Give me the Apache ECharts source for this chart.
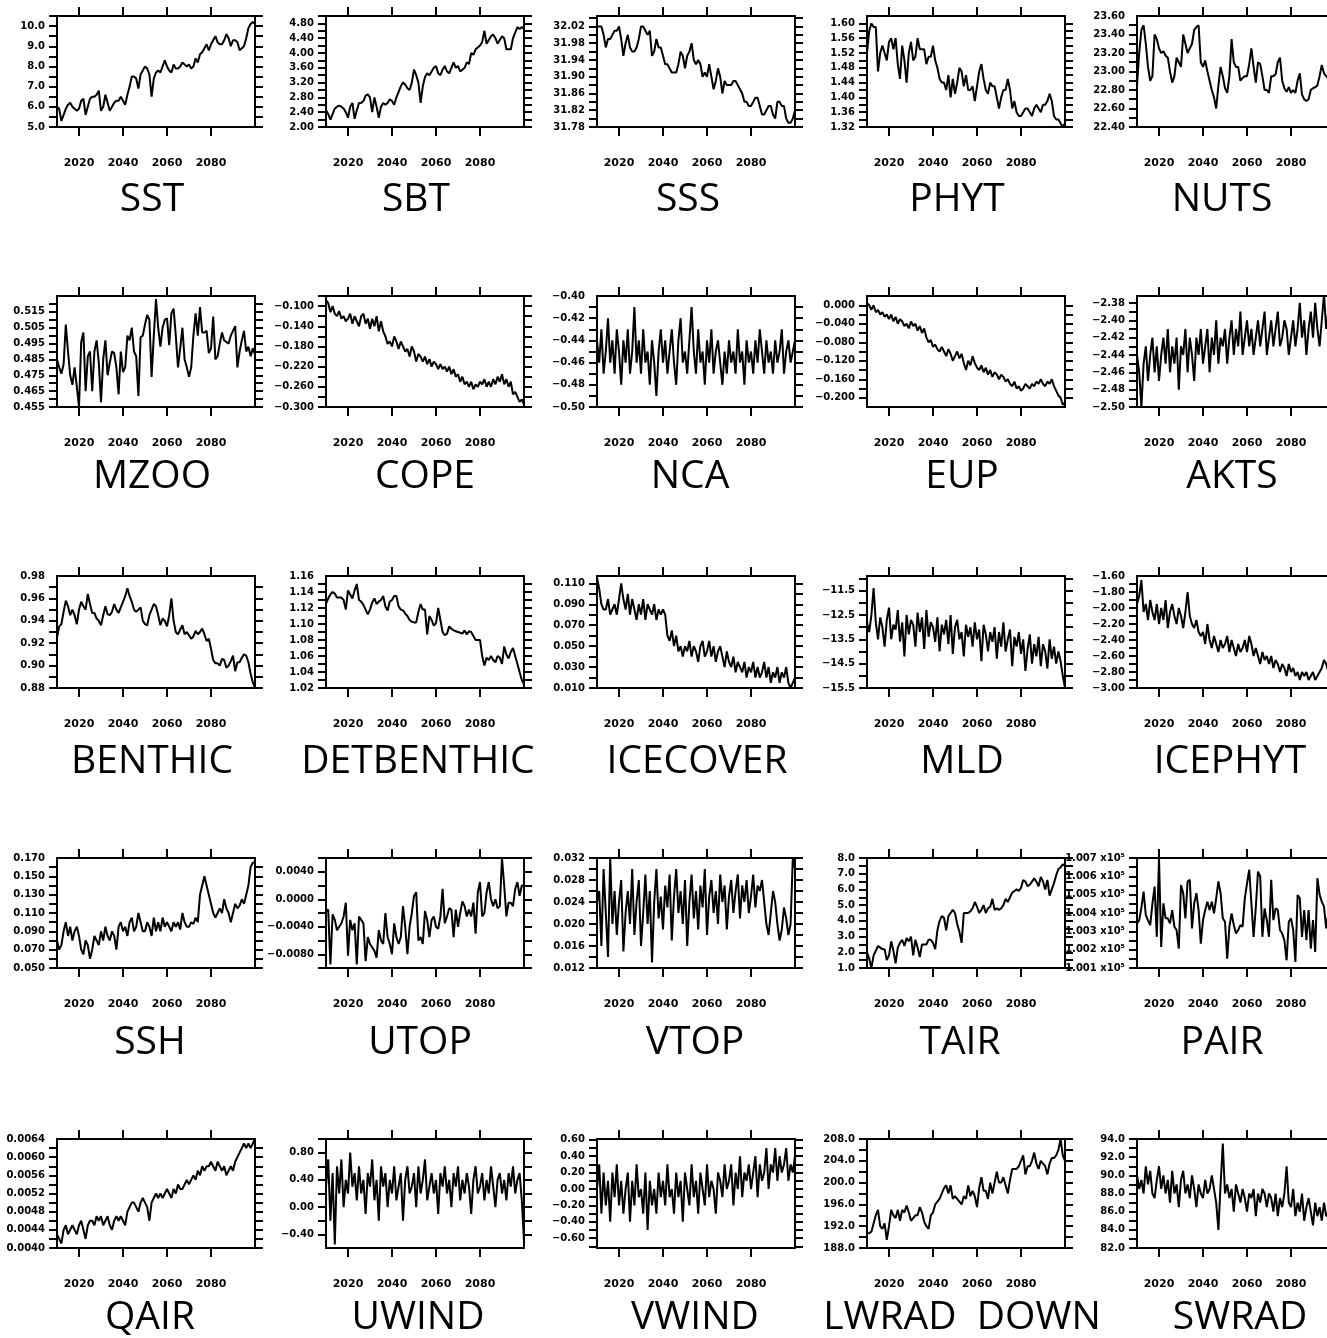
<!DOCTYPE html>
<html><head><meta charset="utf-8">
<script src="https://cdn.jsdelivr.net/npm/echarts@6/dist/echarts.min.js"></script>
<style>html,body{margin:0;padding:0;background:#fff}#c{width:1327px;height:1338px}</style>
</head><body><div id="c"></div>
<script>
// ---------------- DATA ----------------
const YEARS = []; for (let y = 2010; y <= 2100; y++) YEARS.push(y);
const X_TICKS = [2020, 2040, 2060, 2080];

const SST = [6.0,5.9,5.3,5.6,5.9,6.1,6.2,6.0,5.9,5.8, 5.9,6.3,6.4,5.6,6.0,6.4,6.5,6.5,6.6,6.8, 5.8,6.0,6.6,6.2,5.8,6.0,6.2,6.3,6.3,6.5, 6.3,6.1,6.6,7.0,7.5,7.5,7.4,6.9,7.6,7.8, 8.0,7.9,7.6,6.5,7.4,7.7,7.8,7.7,8.0,8.3, 8.0,7.8,7.7,8.1,7.9,7.9,8.0,8.2,8.1,8.0, 8.1,7.9,8.0,8.4,8.2,8.6,8.7,8.9,9.1,8.8, 9.1,9.3,9.5,9.2,9.1,9.1,9.3,9.6,9.4,9.0, 9.3,9.3,9.2,8.8,8.9,9.0,9.4,9.9,10.1,10.2,10.1];
const SBT = [2.45,2.35,2.20,2.35,2.50,2.55,2.58,2.55,2.50,2.40, 2.25,2.55,2.65,2.22,2.45,2.65,2.65,2.70,2.85,2.88, 2.80,2.40,2.80,2.55,2.25,2.55,2.65,2.60,2.65,2.75, 2.70,2.60,2.80,2.95,3.10,3.20,3.15,3.05,3.00,3.20, 3.55,3.40,3.20,2.65,3.10,3.35,3.45,3.40,3.50,3.60, 3.65,3.45,3.40,3.55,3.65,3.50,3.45,3.60,3.75,3.60, 3.65,3.50,3.55,3.60,3.75,3.70,4.00,3.95,4.10,4.15, 4.20,4.30,4.60,4.25,4.35,4.45,4.50,4.40,4.25,4.35, 4.45,4.40,4.10,4.10,4.10,4.40,4.55,4.70,4.65,4.70,4.65];
const SSS = [32.02,32.02,32.02,32.00,31.97,31.99,31.99,32.00,32.01,32.01, 32.02,31.99,31.95,31.98,32.00,31.97,31.96,31.96,31.97,31.99, 32.02,32.02,32.01,32.00,32.01,31.95,31.96,31.99,31.97,31.97, 31.95,31.93,31.93,31.92,31.91,31.91,31.91,31.93,31.96,31.95, 31.92,31.95,31.96,31.98,31.94,31.93,31.94,31.93,31.90,31.91, 31.90,31.93,31.90,31.87,31.89,31.92,31.90,31.86,31.89,31.88, 31.88,31.88,31.89,31.89,31.88,31.87,31.86,31.84,31.84,31.83, 31.83,31.84,31.85,31.85,31.83,31.81,31.81,31.82,31.83,31.83, 31.81,31.80,31.84,31.84,31.83,31.83,31.80,31.79,31.79,31.80,31.82];
const PHYT = [1.52,1.58,1.60,1.59,1.59,1.47,1.52,1.54,1.52,1.50, 1.55,1.56,1.53,1.56,1.49,1.45,1.54,1.50,1.44,1.52, 1.55,1.50,1.51,1.56,1.53,1.53,1.53,1.49,1.51,1.51, 1.54,1.50,1.48,1.45,1.44,1.44,1.42,1.46,1.40,1.45, 1.41,1.44,1.48,1.47,1.43,1.46,1.42,1.42,1.43,1.39, 1.43,1.47,1.49,1.45,1.42,1.41,1.44,1.43,1.43,1.40, 1.37,1.40,1.42,1.42,1.45,1.42,1.37,1.39,1.36,1.35, 1.35,1.36,1.37,1.37,1.36,1.35,1.37,1.38,1.37,1.36, 1.38,1.38,1.39,1.41,1.39,1.35,1.34,1.34,1.33,1.32,1.33];
const NUTS = [22.85,23.20,23.45,23.50,23.30,23.05,22.90,22.95,23.40,23.35, 23.25,23.20,23.22,23.17,23.15,23.00,22.88,22.95,23.15,23.10, 23.05,23.40,23.30,23.20,23.25,23.30,23.45,23.48,23.50,23.10, 23.05,23.12,23.00,22.90,22.80,22.72,22.60,22.85,23.05,22.95, 22.82,22.77,22.95,23.35,23.10,23.05,23.05,22.90,22.93,22.95, 22.95,23.08,23.25,23.05,22.88,23.10,23.08,22.95,22.80,22.80, 22.77,22.95,22.95,22.97,23.10,23.15,22.90,22.82,22.78,22.83, 22.77,22.80,22.77,22.90,22.98,22.75,22.70,22.68,22.70,22.80, 22.82,22.83,22.85,22.95,23.07,22.98,22.95,22.92,22.95,22.90,22.95];
const MZOO = [0.485,0.480,0.476,0.482,0.507,0.490,0.475,0.469,0.480,0.468, 0.455,0.496,0.502,0.465,0.487,0.490,0.465,0.490,0.497,0.483, 0.458,0.485,0.497,0.475,0.483,0.490,0.489,0.480,0.463,0.490, 0.477,0.480,0.500,0.497,0.505,0.490,0.487,0.462,0.499,0.500, 0.507,0.513,0.510,0.474,0.500,0.523,0.505,0.493,0.505,0.510, 0.511,0.494,0.514,0.517,0.500,0.480,0.492,0.505,0.485,0.480, 0.474,0.480,0.500,0.514,0.500,0.518,0.502,0.502,0.503,0.489, 0.492,0.512,0.485,0.487,0.495,0.502,0.497,0.496,0.495,0.500, 0.503,0.506,0.480,0.490,0.497,0.503,0.490,0.493,0.487,0.492,0.488];
const COPE = [-0.088,-0.094,-0.112,-0.100,-0.115,-0.120,-0.110,-0.125,-0.120,-0.130, -0.125,-0.115,-0.135,-0.120,-0.130,-0.140,-0.120,-0.115,-0.135,-0.125, -0.145,-0.125,-0.140,-0.120,-0.150,-0.130,-0.150,-0.160,-0.175,-0.170, -0.180,-0.160,-0.170,-0.185,-0.170,-0.180,-0.190,-0.185,-0.200,-0.180, -0.190,-0.210,-0.195,-0.200,-0.210,-0.200,-0.215,-0.205,-0.220,-0.210, -0.215,-0.225,-0.215,-0.225,-0.220,-0.230,-0.220,-0.235,-0.225,-0.240, -0.235,-0.250,-0.240,-0.255,-0.250,-0.260,-0.250,-0.265,-0.255,-0.260, -0.250,-0.255,-0.245,-0.260,-0.250,-0.260,-0.245,-0.255,-0.240,-0.250, -0.235,-0.255,-0.245,-0.260,-0.250,-0.275,-0.270,-0.280,-0.290,-0.285,-0.295];
const NCA = [-0.44,-0.46,-0.43,-0.47,-0.45,-0.42,-0.46,-0.44,-0.47,-0.43, -0.45,-0.48,-0.44,-0.46,-0.43,-0.47,-0.45,-0.41,-0.46,-0.44, -0.47,-0.43,-0.46,-0.45,-0.48,-0.44,-0.46,-0.49,-0.45,-0.43, -0.46,-0.44,-0.47,-0.45,-0.43,-0.46,-0.48,-0.44,-0.42,-0.46, -0.45,-0.47,-0.44,-0.41,-0.45,-0.47,-0.43,-0.46,-0.45,-0.48, -0.44,-0.46,-0.43,-0.47,-0.45,-0.44,-0.46,-0.48,-0.45,-0.47, -0.44,-0.46,-0.45,-0.47,-0.43,-0.46,-0.45,-0.48,-0.44,-0.46, -0.45,-0.47,-0.44,-0.46,-0.43,-0.45,-0.47,-0.44,-0.46,-0.45, -0.47,-0.44,-0.46,-0.45,-0.43,-0.47,-0.45,-0.44,-0.46,-0.45,-0.44];
const EUP = [0.005,0.000,-0.010,0.000,-0.015,-0.010,-0.020,-0.015,-0.025,-0.020, -0.030,-0.020,-0.035,-0.025,-0.040,-0.030,-0.035,-0.045,-0.040,-0.050, -0.035,-0.045,-0.040,-0.055,-0.045,-0.060,-0.050,-0.070,-0.080,-0.075, -0.090,-0.085,-0.095,-0.100,-0.090,-0.100,-0.110,-0.095,-0.105,-0.120, -0.110,-0.100,-0.115,-0.105,-0.125,-0.140,-0.120,-0.130,-0.110,-0.125, -0.135,-0.140,-0.130,-0.145,-0.135,-0.150,-0.140,-0.155,-0.145,-0.150, -0.160,-0.150,-0.155,-0.165,-0.160,-0.170,-0.175,-0.165,-0.180,-0.175, -0.185,-0.180,-0.170,-0.175,-0.180,-0.170,-0.175,-0.165,-0.170,-0.160, -0.170,-0.175,-0.165,-0.170,-0.160,-0.175,-0.185,-0.195,-0.200,-0.215,-0.210];
const AKTS = [-2.44,-2.46,-2.50,-2.45,-2.43,-2.47,-2.44,-2.42,-2.46,-2.43, -2.47,-2.44,-2.42,-2.45,-2.41,-2.46,-2.43,-2.45,-2.42,-2.48, -2.43,-2.44,-2.41,-2.46,-2.42,-2.44,-2.47,-2.42,-2.44,-2.41, -2.45,-2.43,-2.41,-2.46,-2.42,-2.44,-2.40,-2.45,-2.42,-2.43, -2.41,-2.45,-2.42,-2.40,-2.44,-2.41,-2.43,-2.39,-2.44,-2.42, -2.40,-2.43,-2.41,-2.44,-2.42,-2.40,-2.43,-2.41,-2.39,-2.44, -2.42,-2.40,-2.43,-2.41,-2.39,-2.43,-2.42,-2.40,-2.41,-2.44, -2.42,-2.40,-2.43,-2.41,-2.38,-2.42,-2.40,-2.44,-2.41,-2.39, -2.42,-2.38,-2.41,-2.43,-2.40,-2.37,-2.41,-2.39,-2.40,-2.38,-2.39];
const BENTHIC = [0.925,0.935,0.937,0.948,0.958,0.953,0.945,0.950,0.945,0.937, 0.950,0.957,0.953,0.950,0.964,0.955,0.947,0.947,0.942,0.940, 0.936,0.945,0.953,0.946,0.945,0.948,0.955,0.950,0.947,0.952, 0.957,0.962,0.969,0.962,0.957,0.950,0.948,0.950,0.952,0.940, 0.937,0.936,0.945,0.950,0.955,0.953,0.945,0.936,0.942,0.940, 0.935,0.945,0.960,0.940,0.930,0.928,0.932,0.936,0.928,0.930, 0.927,0.924,0.926,0.931,0.928,0.930,0.933,0.928,0.922,0.924, 0.915,0.905,0.902,0.902,0.900,0.906,0.905,0.898,0.900,0.904, 0.909,0.895,0.903,0.903,0.907,0.910,0.909,0.903,0.893,0.885,0.880];
const DETBENTHIC = [1.125,1.132,1.137,1.140,1.138,1.133,1.133,1.133,1.130,1.118, 1.142,1.137,1.132,1.142,1.150,1.130,1.128,1.124,1.118,1.112, 1.118,1.127,1.132,1.125,1.128,1.130,1.135,1.122,1.117,1.128, 1.130,1.135,1.135,1.122,1.118,1.117,1.113,1.110,1.105,1.103, 1.102,1.102,1.115,1.125,1.118,1.118,1.087,1.110,1.105,1.098, 1.101,1.120,1.105,1.090,1.086,1.088,1.097,1.094,1.092,1.091, 1.090,1.089,1.088,1.092,1.087,1.091,1.090,1.085,1.080,1.080, 1.080,1.060,1.048,1.058,1.055,1.060,1.055,1.052,1.060,1.058, 1.050,1.072,1.062,1.057,1.065,1.070,1.060,1.050,1.040,1.030,1.025];
const ICECOVER = [0.115,0.105,0.090,0.085,0.085,0.095,0.080,0.085,0.090,0.080, 0.095,0.110,0.095,0.085,0.100,0.080,0.095,0.085,0.075,0.090, 0.080,0.095,0.075,0.090,0.085,0.080,0.090,0.075,0.085,0.080, 0.085,0.080,0.060,0.055,0.065,0.050,0.060,0.045,0.050,0.040, 0.050,0.045,0.055,0.040,0.050,0.045,0.035,0.050,0.055,0.040, 0.045,0.055,0.040,0.050,0.035,0.045,0.050,0.040,0.030,0.045, 0.035,0.030,0.040,0.025,0.035,0.030,0.025,0.035,0.020,0.030, 0.025,0.035,0.020,0.030,0.020,0.025,0.035,0.020,0.030,0.015, 0.025,0.020,0.030,0.015,0.025,0.020,0.030,0.015,0.010,0.015,0.020];
const MLD = [-12.8,-13.2,-12.5,-11.4,-12.8,-13.5,-12.6,-13.0,-13.8,-12.7, -12.2,-13.5,-12.9,-13.1,-12.3,-13.6,-12.8,-14.2,-12.5,-13.3, -12.7,-12.9,-13.8,-12.4,-13.2,-12.6,-13.9,-12.3,-13.4,-12.8, -13.0,-13.6,-12.6,-14.0,-12.9,-13.3,-12.7,-13.7,-12.5,-14.1, -13.0,-12.7,-13.5,-13.2,-14.2,-12.9,-13.4,-13.0,-13.8,-12.8, -13.5,-13.1,-14.4,-12.9,-13.3,-14.0,-13.2,-13.6,-13.0,-14.3, -13.2,-13.8,-12.8,-14.0,-13.5,-13.1,-14.6,-13.4,-13.8,-13.2, -14.1,-13.5,-14.8,-13.9,-13.3,-14.5,-13.7,-14.2,-13.4,-14.6, -13.7,-14.0,-14.7,-13.5,-14.3,-13.8,-14.5,-14.0,-14.4,-15.0,-15.5];
const ICEPHYT = [-1.95,-1.85,-1.65,-2.05,-1.95,-2.15,-1.90,-2.05,-2.15,-1.95, -2.20,-2.00,-2.15,-1.90,-2.25,-2.05,-1.95,-2.10,-2.20,-2.00, -2.10,-2.25,-2.05,-1.80,-2.10,-2.20,-2.25,-2.15,-2.30,-2.35, -2.30,-2.45,-2.20,-2.40,-2.50,-2.35,-2.45,-2.55,-2.40,-2.50, -2.45,-2.35,-2.55,-2.40,-2.50,-2.60,-2.45,-2.55,-2.50,-2.40, -2.55,-2.35,-2.45,-2.60,-2.50,-2.60,-2.70,-2.55,-2.65,-2.60, -2.70,-2.60,-2.75,-2.65,-2.70,-2.80,-2.70,-2.75,-2.85,-2.70, -2.80,-2.75,-2.85,-2.80,-2.90,-2.80,-2.85,-2.80,-2.90,-2.85, -2.80,-2.90,-2.85,-2.80,-2.75,-2.65,-2.70,-2.80,-2.85,-2.90,-2.95];
const SSH = [0.080,0.070,0.075,0.090,0.100,0.085,0.095,0.080,0.090,0.095, 0.085,0.070,0.065,0.080,0.075,0.060,0.070,0.085,0.080,0.075, 0.090,0.080,0.095,0.085,0.080,0.090,0.085,0.070,0.095,0.100, 0.090,0.095,0.085,0.100,0.105,0.090,0.095,0.110,0.100,0.090, 0.090,0.100,0.095,0.085,0.105,0.090,0.100,0.090,0.105,0.095, 0.100,0.095,0.090,0.100,0.095,0.100,0.092,0.110,0.100,0.095, 0.095,0.100,0.098,0.105,0.100,0.130,0.140,0.150,0.140,0.130, 0.120,0.110,0.105,0.110,0.115,0.110,0.125,0.115,0.110,0.100, 0.110,0.120,0.115,0.118,0.125,0.120,0.130,0.140,0.160,0.165,0.165];
const UTOP = [-0.0017,-0.0015,-0.0095,-0.0022,-0.0030,-0.0045,-0.0040,-0.0035,-0.0025,-0.0005, -0.0082,-0.0030,-0.0045,-0.0035,-0.0095,-0.0025,-0.0030,-0.0035,-0.0090,-0.0055, -0.0065,-0.0070,-0.0075,-0.0085,-0.0045,-0.0060,-0.0065,-0.0020,-0.0055,-0.0065, -0.0080,-0.0035,-0.0055,-0.0065,-0.0055,-0.0010,-0.0040,-0.0080,-0.0040,-0.0020, 0.0005,0.0010,-0.0060,-0.0055,-0.0065,-0.0017,-0.0030,-0.0055,-0.0030,-0.0025, -0.0040,-0.0043,-0.0025,0.0015,-0.0035,-0.0025,-0.0013,-0.0015,-0.0055,-0.0015, -0.0040,-0.0020,-0.0003,-0.0010,-0.0025,-0.0015,-0.0025,-0.0005,-0.0050,0.0010, 0.0025,-0.0025,-0.0020,0.0010,0.0025,0.0000,-0.0010,0.0000,-0.0013,-0.0010, 0.0060,0.0020,-0.0025,-0.0005,-0.0005,-0.0010,0.0015,0.0025,0.0005,0.0020,0.0020];
const VTOP = [0.024,0.026,0.016,0.030,0.022,0.014,0.032,0.020,0.026,0.018, 0.024,0.028,0.015,0.022,0.026,0.020,0.030,0.018,0.024,0.028, 0.016,0.022,0.029,0.020,0.026,0.013,0.024,0.030,0.021,0.025, 0.019,0.027,0.023,0.029,0.017,0.025,0.030,0.022,0.026,0.020, 0.028,0.016,0.024,0.029,0.021,0.026,0.019,0.027,0.023,0.030, 0.018,0.025,0.028,0.022,0.026,0.020,0.029,0.024,0.027,0.019, 0.025,0.028,0.022,0.026,0.029,0.021,0.027,0.024,0.028,0.022, 0.025,0.029,0.023,0.027,0.026,0.028,0.024,0.020,0.018,0.022, 0.026,0.024,0.020,0.017,0.019,0.023,0.021,0.018,0.020,0.032,0.030];
const TAIR = [2.0,1.6,1.0,1.8,2.1,2.4,2.3,2.2,2.2,1.5, 1.8,2.7,2.1,1.3,2.3,2.6,2.8,2.4,2.9,2.7, 3.0,1.8,2.8,2.3,1.7,2.5,2.5,2.5,2.8,2.8, 2.6,2.2,3.4,4.0,4.3,4.2,3.4,4.3,4.5,4.7, 4.5,3.8,3.3,2.6,4.5,4.5,4.5,4.6,4.8,5.2, 4.9,4.5,4.7,5.0,4.5,4.8,4.9,5.4,4.7,4.8, 4.7,4.8,5.0,5.4,5.2,5.5,5.8,5.9,6.0,5.9, 6.1,6.6,6.5,6.2,6.3,6.5,6.7,6.5,6.2,6.8, 6.5,6.0,6.6,5.6,6.0,6.4,6.9,7.3,7.4,7.6,7.5];
const PAIR = [100343,100361,100430,100517,100389,100360,100334,100450,100544,100270, 100700,100215,100453,100371,100371,100343,100416,100325,100307,100206, 100553,100508,100371,100572,100581,100316,100453,100508,100416,100233, 100361,100416,100462,100416,100462,100398,100480,100572,100508,100371, 100352,100151,100325,100398,100334,100288,100307,100334,100325,100480, 100560,100636,100453,100270,100430,100626,100599,100270,100425,100361, 100270,100581,100361,100425,100416,100307,100288,100250,100142,100352, 100371,100307,100133,100498,100480,100270,100416,100252,100416,100206, 100361,100188,100590,100500,100462,100435,100316,100400,100340,100520,100450];
const QAIR = [0.0043,0.0042,0.0041,0.0044,0.0045,0.0043,0.0044,0.0045,0.0044,0.0043, 0.0045,0.0046,0.0044,0.0042,0.0045,0.0046,0.0046,0.0045,0.0047,0.0046, 0.0047,0.0045,0.0046,0.0047,0.0045,0.0044,0.0046,0.0047,0.0046,0.0047, 0.0046,0.0045,0.0048,0.0049,0.0050,0.0050,0.0049,0.0048,0.0050,0.0051, 0.0050,0.0049,0.0046,0.0050,0.0051,0.0052,0.0051,0.0052,0.0051,0.0052, 0.0053,0.0052,0.0051,0.0053,0.0052,0.0054,0.0053,0.0053,0.0054,0.0055, 0.0054,0.0055,0.0056,0.0055,0.0057,0.0056,0.0058,0.0057,0.0058,0.0058, 0.0059,0.0058,0.0057,0.0059,0.0058,0.0057,0.0058,0.0056,0.0057,0.0058, 0.0057,0.0059,0.0060,0.0061,0.0062,0.0063,0.0062,0.0063,0.0062,0.0063,0.0064];
const UWIND = [0.3,0.7,-0.2,0.5,-0.55,0.6,0.2,0.7,0.0,0.4, 0.2,0.8,0.3,0.5,0.1,0.6,0.2,0.4,-0.1,0.5, 0.3,0.7,0.1,0.4,-0.2,0.6,0.3,0.5,0.0,0.4, 0.2,0.6,0.1,0.3,0.5,-0.2,0.4,0.6,0.2,0.3, 0.5,0.0,0.6,0.2,0.4,0.7,0.1,0.3,0.5,0.2, 0.4,-0.1,0.5,0.3,0.6,0.2,0.4,0.0,0.5,0.3, 0.6,0.1,0.4,0.2,0.5,0.3,-0.1,0.4,0.6,0.2, 0.3,0.5,0.1,0.4,0.2,0.6,0.3,0.0,0.4,0.5, 0.2,0.4,0.1,0.5,0.3,0.6,0.2,0.4,0.5,0.1,-0.5];
const VWIND = [0.0,0.3,-0.3,0.2,-0.2,0.1,-0.4,0.2,-0.1,0.3, -0.2,0.1,-0.3,0.0,0.2,-0.4,0.1,-0.2,0.3,-0.1, 0.0,-0.3,0.2,-0.5,0.1,-0.2,0.0,-0.3,0.2,-0.1, 0.1,-0.2,0.3,-0.1,0.0,-0.3,0.2,-0.1,0.1,-0.4, 0.2,0.0,-0.2,0.3,-0.1,0.1,-0.3,0.2,0.0,-0.2, 0.3,-0.1,0.1,0.0,-0.3,0.2,0.1,-0.1,0.3,0.0, 0.1,0.3,-0.2,0.2,0.0,0.4,-0.1,0.2,0.1,0.3, 0.0,0.2,0.4,-0.1,0.3,0.1,0.2,0.5,0.0,0.3, 0.2,0.5,0.1,0.4,0.2,0.3,0.5,0.1,0.3,0.2,0.4];
const LWRAD = [190.7,190.7,191.0,192.5,194.0,195.0,192.0,191.5,192.5,189.5, 192.0,195.0,194.0,193.5,195.0,193.0,195.0,194.5,195.8,194.5, 193.0,193.5,194.0,194.0,195.5,194.5,192.8,192.0,191.5,194.0, 194.5,196.0,196.5,197.0,198.0,199.0,199.5,198.0,199.5,197.0, 197.5,197.0,196.5,196.0,197.5,197.0,199.5,197.5,198.5,197.5, 195.5,199.0,201.0,198.5,198.5,197.0,200.0,198.0,200.0,202.0, 200.0,200.0,201.0,199.5,198.0,200.5,202.5,202.5,202.5,203.0, 204.0,205.0,201.5,203.0,203.0,204.0,205.5,203.5,202.5,204.0, 203.5,203.0,201.5,203.5,204.5,204.5,205.0,206.0,208.0,205.0,204.0];
const SWRAD = [90.0,88.5,89.5,88.0,91.0,89.0,90.5,88.0,87.5,89.5, 91.0,88.5,90.0,88.0,89.5,87.0,90.5,88.0,89.0,86.5, 89.5,90.5,88.0,89.0,87.5,90.0,88.5,86.5,89.0,88.0, 87.5,89.5,88.0,88.5,90.0,88.5,87.0,84.0,89.0,93.5, 88.0,89.0,87.5,88.5,86.0,89.0,88.0,87.0,88.5,87.5, 86.0,88.0,87.5,88.5,85.5,88.0,87.0,88.5,88.0,86.5, 88.0,87.5,86.0,88.0,85.5,87.5,86.5,88.0,91.0,87.0, 86.5,88.5,85.5,87.0,86.0,88.0,85.0,86.5,87.5,86.0, 84.5,87.0,85.5,86.5,85.0,87.0,85.5,86.0,84.5,83.5,83.0];

// y tick labels and axis ranges
const SST_TICKS = ['5.0','6.0','7.0','8.0','9.0','10.0'];            const SST_RANGE = [5.0, 10.5];
const SBT_TICKS = ['2.00','2.40','2.80','3.20','3.60','4.00','4.40','4.80']; const SBT_RANGE = [2.0, 5.0];
const SSS_TICKS = ['31.78','31.82','31.86','31.90','31.94','31.98','32.02']; const SSS_RANGE = [31.78, 32.045];
const PHYT_TICKS = ['1.32','1.36','1.40','1.44','1.48','1.52','1.56','1.60']; const PHYT_RANGE = [1.32, 1.62];
const NUTS_TICKS = ['22.40','22.60','22.80','23.00','23.20','23.40','23.60']; const NUTS_RANGE = [22.4, 23.6];
const MZOO_TICKS = ['0.455','0.465','0.475','0.485','0.495','0.505','0.515']; const MZOO_RANGE = [0.455, 0.525];
const COPE_TICKS = ['\u22120.300','\u22120.260','\u22120.220','\u22120.180','\u22120.140','\u22120.100']; const COPE_RANGE = [-0.30, -0.08];
const NCA_TICKS = ['\u22120.50','\u22120.48','\u22120.46','\u22120.44','\u22120.42','\u22120.40']; const NCA_RANGE = [-0.50, -0.40];
const EUP_TICKS = ['\u22120.200','\u22120.160','\u22120.120','\u22120.080','\u22120.040','0.000']; const EUP_RANGE = [-0.22, 0.02];
const AKTS_TICKS = ['\u22122.50','\u22122.48','\u22122.46','\u22122.44','\u22122.42','\u22122.40','\u22122.38']; const AKTS_RANGE = [-2.50, -2.372];
const BENTHIC_TICKS = ['0.88','0.90','0.92','0.94','0.96','0.98']; const BENTHIC_RANGE = [0.88, 0.98];
const DETBENTHIC_TICKS = ['1.02','1.04','1.06','1.08','1.10','1.12','1.14','1.16']; const DETBENTHIC_RANGE = [1.02, 1.16];
const ICECOVER_TICKS = ['0.010','0.030','0.050','0.070','0.090','0.110']; const ICECOVER_RANGE = [0.010, 0.117];
const MLD_TICKS = ['\u221215.5','\u221214.5','\u221213.5','\u221212.5','\u221211.5']; const MLD_RANGE = [-15.5, -10.9];
const ICEPHYT_TICKS = ['\u22123.00','\u22122.80','\u22122.60','\u22122.40','\u22122.20','\u22122.00','\u22121.80','\u22121.60']; const ICEPHYT_RANGE = [-3.0, -1.6];
const SSH_TICKS = ['0.050','0.070','0.090','0.110','0.130','0.150','0.170']; const SSH_RANGE = [0.05, 0.17];
const UTOP_TICKS = ['\u22120.0080','\u22120.0040','0.0000','0.0040']; const UTOP_RANGE = [-0.010, 0.006];
const VTOP_TICKS = ['0.012','0.016','0.020','0.024','0.028','0.032']; const VTOP_RANGE = [0.012, 0.032];
const TAIR_TICKS = ['1.0','2.0','3.0','4.0','5.0','6.0','7.0','8.0']; const TAIR_RANGE = [1.0, 8.0];
const PAIR_TICKS = ['1.001 x10\u2075','1.002 x10\u2075','1.003 x10\u2075','1.004 x10\u2075','1.005 x10\u2075','1.006 x10\u2075','1.007 x10\u2075']; const PAIR_RANGE = [100100, 100700];
const QAIR_TICKS = ['0.0040','0.0044','0.0048','0.0052','0.0056','0.0060','0.0064']; const QAIR_RANGE = [0.0040, 0.0064];
const UWIND_TICKS = ['\u22120.40','0.00','0.40','0.80']; const UWIND_RANGE = [-0.6, 1.0];
const VWIND_TICKS = ['\u22120.60','\u22120.40','\u22120.20','0.00','0.20','0.40','0.60']; const VWIND_RANGE = [-0.72, 0.61];
const LWRAD_TICKS = ['188.0','192.0','196.0','200.0','204.0','208.0']; const LWRAD_RANGE = [188, 208];
const SWRAD_TICKS = ['82.0','84.0','86.0','88.0','90.0','92.0','94.0']; const SWRAD_RANGE = [82, 94];

const PANELS = [
  ['SST', SST, SST_TICKS, SST_RANGE], ['SBT', SBT, SBT_TICKS, SBT_RANGE], ['SSS', SSS, SSS_TICKS, SSS_RANGE], ['PHYT', PHYT, PHYT_TICKS, PHYT_RANGE], ['NUTS', NUTS, NUTS_TICKS, NUTS_RANGE],
  ['MZOO', MZOO, MZOO_TICKS, MZOO_RANGE], ['COPE', COPE, COPE_TICKS, COPE_RANGE], ['NCA', NCA, NCA_TICKS, NCA_RANGE], ['EUP', EUP, EUP_TICKS, EUP_RANGE], ['AKTS', AKTS, AKTS_TICKS, AKTS_RANGE],
  ['BENTHIC', BENTHIC, BENTHIC_TICKS, BENTHIC_RANGE], ['DETBENTHIC', DETBENTHIC, DETBENTHIC_TICKS, DETBENTHIC_RANGE], ['ICECOVER', ICECOVER, ICECOVER_TICKS, ICECOVER_RANGE], ['MLD', MLD, MLD_TICKS, MLD_RANGE], ['ICEPHYT', ICEPHYT, ICEPHYT_TICKS, ICEPHYT_RANGE],
  ['SSH', SSH, SSH_TICKS, SSH_RANGE], ['UTOP', UTOP, UTOP_TICKS, UTOP_RANGE], ['VTOP', VTOP, VTOP_TICKS, VTOP_RANGE], ['TAIR', TAIR, TAIR_TICKS, TAIR_RANGE], ['PAIR', PAIR, PAIR_TICKS, PAIR_RANGE],
  ['QAIR', QAIR, QAIR_TICKS, QAIR_RANGE], ['UWIND', UWIND, UWIND_TICKS, UWIND_RANGE], ['VWIND', VWIND, VWIND_TICKS, VWIND_RANGE], ['LWRAD  DOWN', LWRAD, LWRAD_TICKS, LWRAD_RANGE], ['SWRAD', SWRAD, SWRAD_TICKS, SWRAD_RANGE]
];

// ---------------- LAYOUT ----------------
const COL_LEFT = [57, 326, 597, 867, 1137];
const ROW_TOP = [16, 296, 576, 858, 1139];
const ROW_H = [111, 111, 112, 110, 109];
const PW = 198;
const TITLE_X = [[152,416,688,957,1222],[152,425,690,962,1232],[152,418,697,962,1230],[150,420,695,960,1222],[150,418,695,962,1240]];
const TITLE_Y = [200, 477, 762, 1043, 1318];
const MINOR_SUB = 2;

function parseTick(s) {
  const sci = s.indexOf('x10\u2075') >= 0;
  const v = parseFloat(s.replace('\u2212', '-'));
  return sci ? Math.round(v * 1e5) : v;
}
function allTicks(majors, lo, hi, sub) {
  const step = (majors[1] - majors[0]) / sub;
  let start = majors[0];
  while (start - step >= lo - step * 1e-6) start -= step;
  const out = [];
  for (let k = 0; ; k++) { const v = start + k * step; if (v > hi + step * 1e-6) break; out.push(v); }
  return out;
}

const option = { animation: false, backgroundColor: '#ffffff', grid: [], xAxis: [], yAxis: [], series: [], graphic: [] };
const AX = { color: '#000', width: 2 };
const LBL = { color: '#000', fontFamily: 'DejaVu Sans', fontWeight: 'bold' };

PANELS.forEach((p, i) => {
  const r = Math.floor(i / 5), c = i % 5;
  const [name, vals, labels, range] = p;
  const majors = labels.map(parseTick);
  const ticks = allTicks(majors, range[0], range[1], MINOR_SUB);
  const eps = Math.abs(majors[1] - majors[0]) * 1e-4;
  option.grid.push({ left: COL_LEFT[c], top: ROW_TOP[r], width: PW, height: ROW_H[r], containLabel: false, outerBoundsMode: 'none' });
  option.xAxis.push({ type: 'value', gridIndex: i, min: 2010, max: 2100, position: 'bottom',
    splitLine: { show: false }, axisLine: { onZero: false, lineStyle: AX },
    axisTick: { customValues: X_TICKS, inside: false, length: 9, lineStyle: AX },
    axisLabel: Object.assign({ customValues: X_TICKS, margin: 31, fontSize: 11, formatter: v => String(v) }, LBL) });
  option.xAxis.push({ type: 'value', gridIndex: i, min: 2010, max: 2100, position: 'top',
    splitLine: { show: false }, axisLine: { onZero: false, lineStyle: AX },
    axisTick: { customValues: X_TICKS, inside: false, length: 9, lineStyle: AX },
    axisLabel: { show: false } });
  option.yAxis.push({ type: 'value', gridIndex: i, min: range[0], max: range[1], position: 'left',
    splitLine: { show: false }, axisLine: { onZero: false, lineStyle: AX },
    axisTick: { customValues: ticks, inside: false, length: 8, lineStyle: AX },
    axisLabel: Object.assign({ customValues: majors, margin: 12, fontSize: 10,
      formatter: v => { for (let k = 0; k < majors.length; k++) if (Math.abs(majors[k] - v) < eps) return labels[k]; return ''; } }, LBL) });
  option.yAxis.push({ type: 'value', gridIndex: i, min: range[0], max: range[1], position: 'right',
    splitLine: { show: false }, axisLine: { onZero: false, lineStyle: AX },
    axisTick: { customValues: ticks, inside: false, length: 8, lineStyle: AX },
    axisLabel: { show: false } });
  option.series.push({ type: 'line', xAxisIndex: 2 * i, yAxisIndex: 2 * i, showSymbol: false, symbol: 'none',
    data: YEARS.map((y, k) => [y, vals[k]]), lineStyle: { color: '#000', width: 2 }, silent: true });
  option.graphic.push({ type: 'text', x: TITLE_X[r][c], y: TITLE_Y[r], silent: true,
    style: { text: name, fill: '#000', fontSize: 39, fontFamily: 'Open Sans', align: 'center', verticalAlign: 'middle', textAlign: 'center', textVerticalAlign: 'middle' } });
});

const chart = echarts.init(document.getElementById('c'), null, { renderer: 'canvas' });
chart.setOption(option);
</script></body></html>
